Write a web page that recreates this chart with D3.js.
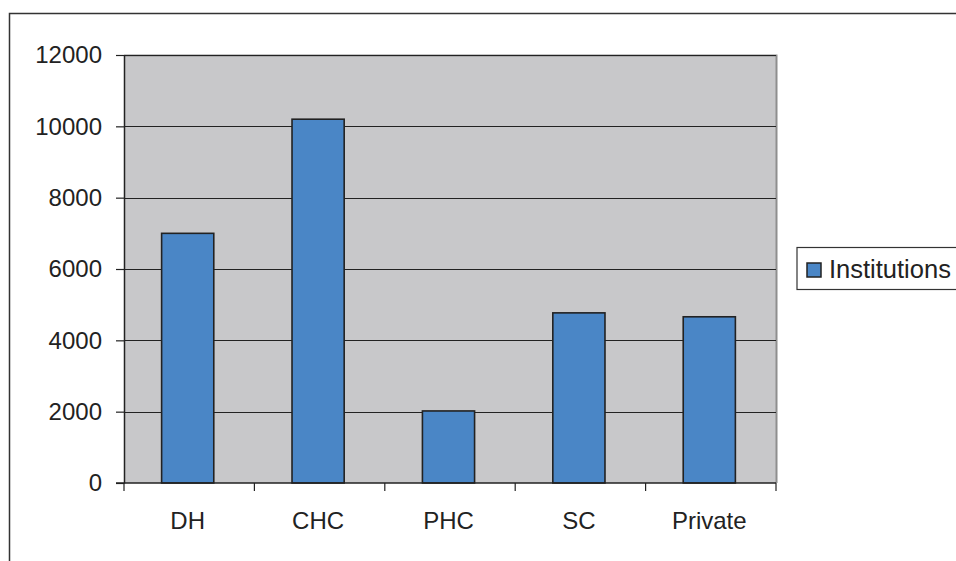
<!DOCTYPE html>
<html>
<head>
<meta charset="utf-8">
<title>Institutions</title>
<script src="https://d3js.org/d3.v7.min.js"></script>
<style>
  body { margin: 0; background: #fff; }
  svg { display: block; font-family: "Liberation Sans", Arial, sans-serif; }
</style>
</head>
<body>
<script>
const categories = ["DH", "CHC", "PHC", "SC", "Private"];
const institutions = [7000, 10200, 2020, 4770, 4660];
const yTicks = [0, 2000, 4000, 6000, 8000, 10000, 12000];
const seriesName = "Institutions";

const W = 956, H = 561;
const plot = { left: 124, top: 55, right: 776, bottom: 483 };

const svg = d3.select("body").append("svg")
  .attr("width", W).attr("height", H);

// outer chart frame (cut off at right and bottom)
svg.append("rect")
  .attr("x", 9.5).attr("y", 13.5)
  .attr("width", W + 20).attr("height", H + 20)
  .attr("fill", "none").attr("stroke", "#333").attr("stroke-width", 1.5);

const x = d3.scaleBand().domain(categories)
  .range([plot.left, plot.right]).padding(0);
const y = d3.scaleLinear().domain([0, 12000])
  .range([plot.bottom, plot.top]);

// plot area
svg.append("rect")
  .attr("x", plot.left).attr("y", plot.top)
  .attr("width", plot.right - plot.left).attr("height", plot.bottom - plot.top)
  .attr("fill", "#c8c8ca");
svg.append("path")
  .attr("d", `M${plot.left},${plot.top + 0.5}H${plot.right + 0.5}V${plot.bottom}`)
  .attr("fill", "none").attr("stroke", "#8e8e8e").attr("stroke-width", 2);

// gridlines
svg.append("g").selectAll("line")
  .data(yTicks.filter(d => d > 0))
  .join("line")
  .attr("x1", plot.left).attr("x2", plot.right)
  .attr("y1", d => Math.round(y(d)) + 0.5).attr("y2", d => Math.round(y(d)) + 0.5)
  .attr("stroke", "#222").attr("stroke-width", 1);

// bars
const bw = x.bandwidth() * 0.4;
svg.append("g").selectAll("rect")
  .data(institutions)
  .join("rect")
  .attr("x", (d, i) => x(categories[i]) + x.bandwidth() / 2 - bw / 2 - 1.5)
  .attr("y", d => y(d))
  .attr("width", bw)
  .attr("height", d => y(0) - y(d))
  .attr("fill", "#4a86c6")
  .attr("stroke", "#222").attr("stroke-width", 1.6);

// y axis
const yAxis = svg.append("g")
  .attr("transform", `translate(${plot.left},0)`)
  .call(d3.axisLeft(y).tickValues(yTicks).tickFormat(d3.format("d"))
    .tickSize(8).tickPadding(14).tickSizeOuter(0));
yAxis.select(".domain").attr("stroke", "#222").attr("stroke-width", 1.5);
yAxis.selectAll(".tick line").attr("stroke", "#222").attr("stroke-width", 1.2);
yAxis.selectAll("text").attr("font-size", 24).attr("fill", "#222")
  .attr("font-family", "Liberation Sans, Arial, sans-serif");

// x axis
const xAxis = svg.append("g")
  .attr("transform", `translate(0,${plot.bottom})`);
xAxis.append("line")
  .attr("x1", plot.left - 8).attr("x2", plot.right)
  .attr("stroke", "#222").attr("stroke-width", 1.5);
xAxis.selectAll(".sep")
  .data(categories.concat([null]))
  .join("line").attr("class", "sep")
  .attr("x1", (d, i) => plot.left + i * x.step())
  .attr("x2", (d, i) => plot.left + i * x.step())
  .attr("y1", 0).attr("y2", 8)
  .attr("stroke", "#222").attr("stroke-width", 1.2);
xAxis.selectAll("text")
  .data(categories)
  .join("text")
  .attr("x", d => x(d) + x.bandwidth() / 2 - 1.5)
  .attr("y", 46)
  .attr("text-anchor", "middle")
  .attr("font-size", 24).attr("fill", "#222")
  .text(d => d);

// legend
const lg = svg.append("g");
lg.append("rect")
  .attr("x", 797).attr("y", 247.5)
  .attr("width", 200).attr("height", 42)
  .attr("fill", "#fff").attr("stroke", "#333").attr("stroke-width", 1.2);
lg.append("rect")
  .attr("x", 807).attr("y", 263)
  .attr("width", 14).attr("height", 14)
  .attr("fill", "#4a86c6").attr("stroke", "#222").attr("stroke-width", 1.5);
lg.append("text")
  .attr("x", 829).attr("y", 278)
  .attr("font-size", 25.5).attr("fill", "#222")
  .text(seriesName);
</script>
</body>
</html>
